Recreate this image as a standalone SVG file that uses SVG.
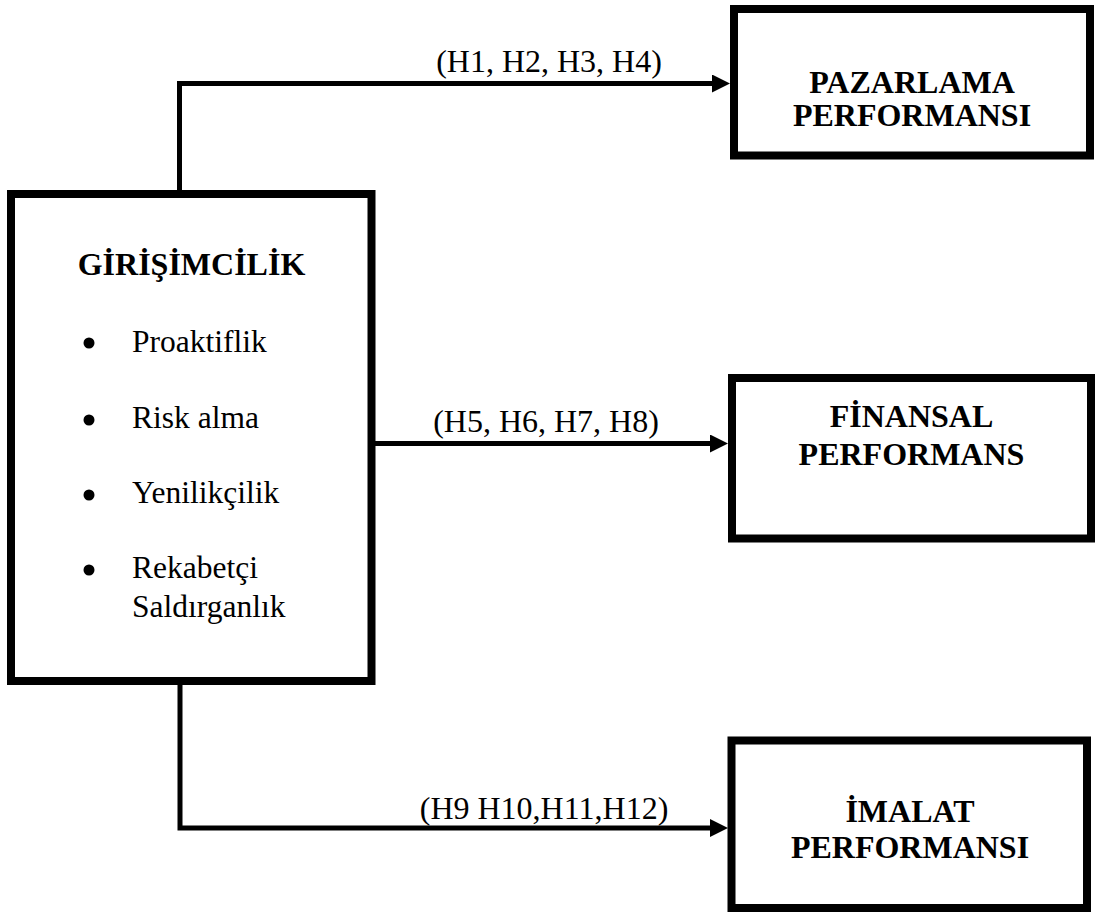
<svg xmlns="http://www.w3.org/2000/svg" width="1097" height="912" viewBox="0 0 1097 912">
<style>
.box{fill:#fff;stroke:#000;stroke-width:8}
.conn{fill:none;stroke:#000;stroke-width:5;stroke-linejoin:miter}
.t{font-family:"Liberation Serif","Times New Roman",serif;fill:#000}
.b{font-weight:bold;font-size:32px;text-anchor:middle}
.r{font-size:31.5px}
.lbl{font-size:32px;text-anchor:middle}
</style>
<defs>
<marker id="arr" markerUnits="userSpaceOnUse" markerWidth="18" markerHeight="18" viewBox="0 0 18 18" refX="0" refY="9" orient="auto">
<path d="M0,0 L18,9 L0,18 Z" fill="#000"/>
</marker>
</defs>
<g id="connectors">
<path class="conn" d="M179.5,190 V83.5 H712" marker-end="url(#arr)"/>
<path class="conn" d="M375,443.5 H710" marker-end="url(#arr)"/>
<path class="conn" d="M180,685 V828 H710" marker-end="url(#arr)"/>
<text class="t lbl" x="549" y="72">(H1, H2, H3, H4)</text>
<text class="t lbl" x="546" y="432">(H5, H6, H7, H8)</text>
<text class="t lbl" x="544" y="819">(H9 H10,H11,H12)</text>
</g>
<g id="girisimcilik">
<rect class="box" x="11" y="194" width="360.5" height="487"/>
<text class="t b" x="191.5" y="275">GİRİŞİMCİLİK</text>
<circle cx="89" cy="343" r="5.5"/>
<text class="t r" x="132" y="352">Proaktiflik</text>
<circle cx="89" cy="420" r="5.5"/>
<text class="t r" x="132" y="428">Risk alma</text>
<circle cx="89" cy="495" r="5.5"/>
<text class="t r" x="132" y="503">Yenilikçilik</text>
<circle cx="89" cy="570" r="5.5"/>
<text class="t r" x="132" y="578">Rekabetçi</text>
<text class="t r" x="132" y="617">Saldırganlık</text>
</g>
<g id="pazarlama">
<rect class="box" x="734" y="9" width="356" height="146.5"/>
<text class="t b" x="912" y="93">PAZARLAMA</text>
<text class="t b" x="912" y="126">PERFORMANSI</text>
</g>
<g id="finansal">
<rect class="box" x="732" y="378" width="359" height="160.5"/>
<text class="t b" x="911.5" y="427">FİNANSAL</text>
<text class="t b" x="911.5" y="465">PERFORMANS</text>
</g>
<g id="imalat">
<rect class="box" x="731.5" y="740.5" width="355.5" height="167.5"/>
<text class="t b" x="910" y="822">İMALAT</text>
<text class="t b" x="910" y="858">PERFORMANSI</text>
</g>
</svg>
